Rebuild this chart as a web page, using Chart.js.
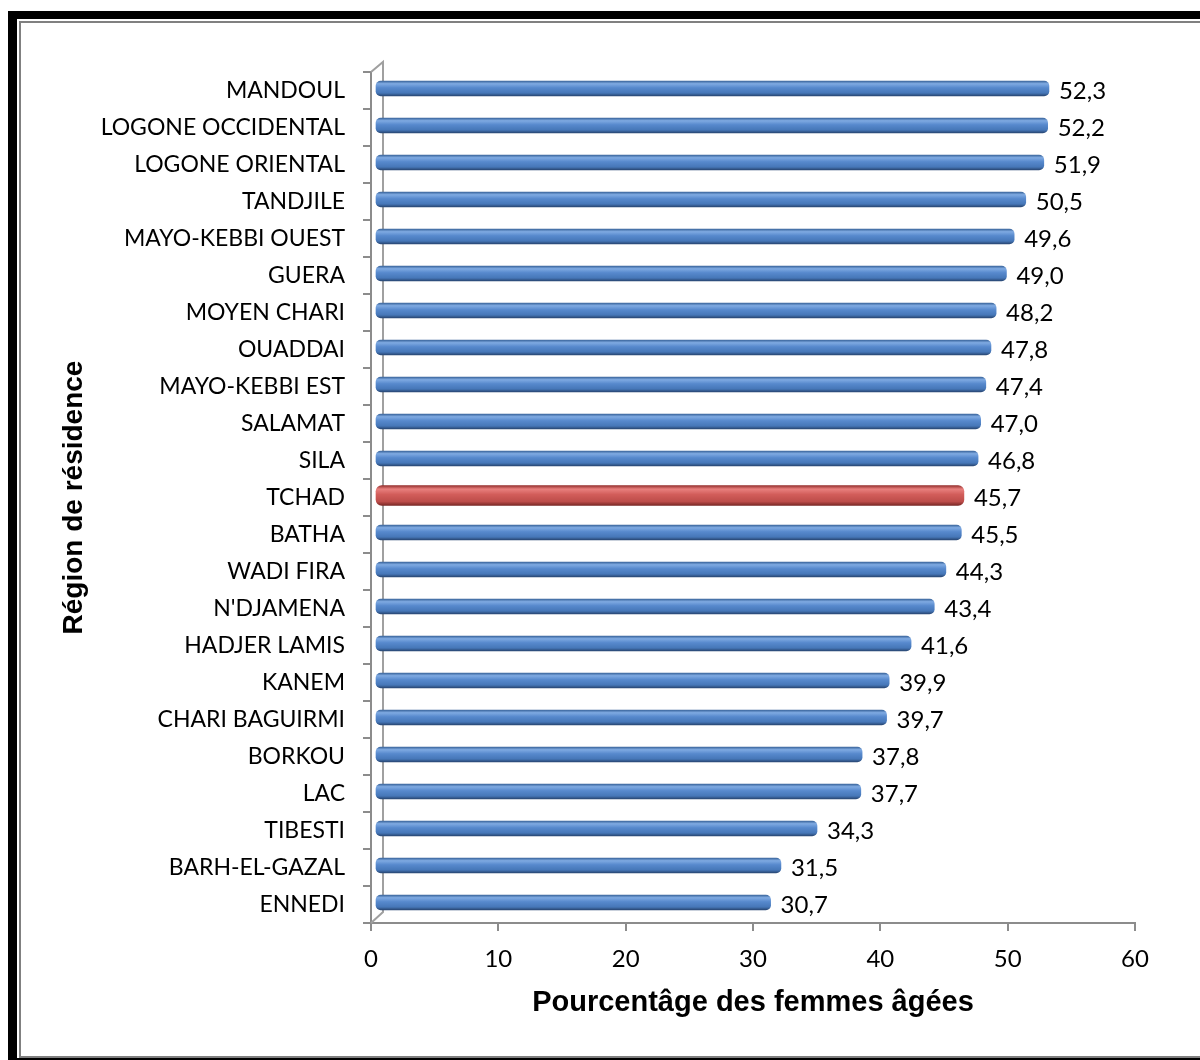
<!DOCTYPE html>
<html>
<head>
<meta charset="utf-8">
<script src="https://cdn.jsdelivr.net/npm/chart.js@4/dist/chart.umd.min.js"></script>
<style>
  html, body { margin: 0; padding: 0; background: #fff; overflow: hidden; }
  .cadre { position: absolute; left: 8px; top: 11px; width: 1300px; height: 1057px; box-sizing: border-box;
           border-left: 9px solid #000; border-top: 8px solid #000; border-bottom: 10px solid #000; }
  .cadre2 { position: absolute; left: 19px; top: 21px; width: 1300px; height: 1037px; box-sizing: border-box;
            border: 2px solid #808080; }
  #graphique { position: absolute; left: 0; top: 0; }
</style>
</head>
<body>
<div class="cadre"></div>
<div class="cadre2"></div>
<canvas id="graphique" width="1200" height="1060"></canvas>
<script>
// Données (de haut en bas)
const regions = ['MANDOUL', 'LOGONE OCCIDENTAL', 'LOGONE ORIENTAL', 'TANDJILE', 'MAYO-KEBBI OUEST',
    'GUERA', 'MOYEN CHARI', 'OUADDAI', 'MAYO-KEBBI EST', 'SALAMAT', 'SILA', 'TCHAD', 'BATHA',
    'WADI FIRA', "N'DJAMENA", 'HADJER LAMIS', 'KANEM', 'CHARI BAGUIRMI', 'BORKOU', 'LAC',
    'TIBESTI', 'BARH-EL-GAZAL', 'ENNEDI'];
const pourcentages = [52.3, 52.2, 51.9, 50.5, 49.6, 49.0, 48.2, 47.8, 47.4, 47.0, 46.8, 45.7, 45.5,
    44.3, 43.4, 41.6, 39.9, 39.7, 37.8, 37.7, 34.3, 31.5, 30.7];
const xTicks = [0, 10, 20, 30, 40, 50, 60];
const ensemble = 'TCHAD';

const policeTexte = 'Lato, "Open Sans", sans-serif';
const policeTitre = '"Liberation Sans", Arial, sans-serif';

// effet 3D : décalage des barres vers le fond
const decalY = -2;
function versFond(x) { return 375 + (x - 371) * 1.012; }

function degradeCylindre(ctx, y, h, couleurs) {
    const g = ctx.createLinearGradient(0, y - h / 2, 0, y + h / 2);
    g.addColorStop(0, couleurs[0]);
    g.addColorStop(0.18, couleurs[1]);
    g.addColorStop(0.45, couleurs[2]);
    g.addColorStop(0.8, couleurs[3]);
    g.addColorStop(1, couleurs[4]);
    return g;
}

function fond(couleurs, epaisseur) {
    return function(context) {
        const chart = context.chart;
        if (!chart.chartArea || context.dataIndex === undefined) return couleurs[2];
        const y = chart.scales.y.getPixelForValue(context.dataIndex);
        return degradeCylindre(chart.ctx, y, epaisseur, couleurs);
    };
}

const bleu = ['#3a659c', '#7faae2', '#5789cd', '#4677b8', '#284672'];
const rouge = ['#96302e', '#e8807e', '#d25d5a', '#bd4d4a', '#7a2826'];

const murPlugin = {
    id: 'mur',
    beforeDatasetsDraw(chart) {
        const { ctx, chartArea: a } = chart;
        ctx.save();
        ctx.strokeStyle = '#a0a0a0';
        ctx.lineWidth = 2;
        ctx.beginPath();
        ctx.moveTo(a.left, a.top);
        ctx.lineTo(a.left + 12, a.top - 10);
        ctx.lineTo(a.left + 12, a.bottom - 11);
        ctx.lineTo(a.left, a.bottom);
        ctx.stroke();
        ctx.restore();
    },
    beforeDatasetDraw(chart) {
        chart.ctx.save();
        chart.ctx.translate(375, decalY);
        chart.ctx.scale(1.012, 1);
        chart.ctx.translate(-371, 0);
    },
    afterDatasetDraw(chart) {
        chart.ctx.restore();
    },
    afterDatasetsDraw(chart) {
        const ctx = chart.ctx;
        ctx.save();
        ctx.font = '24px ' + policeTexte;
        ctx.fillStyle = '#000';
        ctx.textAlign = 'left';
        ctx.textBaseline = 'middle';
        chart.data.datasets.forEach((ds, i) => {
            chart.getDatasetMeta(i).data.forEach((el, j) => {
                const v = ds.data[j];
                if (v === null) return;
                ctx.fillText(v.toFixed(1).replace('.', ','), versFond(el.x) + 10, el.y + decalY + 3);
            });
        });
        ctx.restore();
    }
};

new Chart(document.getElementById('graphique'), {
    type: 'bar',
    data: {
        labels: regions,
        datasets: [{
            data: pourcentages.map((v, i) => regions[i] === ensemble ? null : v),
            backgroundColor: fond(bleu, 15),
            barThickness: 15,
            borderRadius: 5,
            borderSkipped: false,
            grouped: false
        }, {
            data: pourcentages.map((v, i) => regions[i] === ensemble ? v : null),
            backgroundColor: fond(rouge, 20),
            barThickness: 20,
            borderRadius: 6,
            borderSkipped: false,
            grouped: false
        }]
    },
    options: {
        indexAxis: 'y',
        responsive: false,
        animation: false,
        layout: { padding: { top: 72, right: 65, bottom: 37, left: 0 } },
        plugins: { legend: { display: false }, tooltip: { enabled: false } },
        scales: {
            x: {
                min: xTicks[0],
                max: xTicks[xTicks.length - 1],
                afterBuildTicks: function(scale) {
                    scale.ticks = xTicks.map(v => ({ value: v }));
                },
                afterFit: function(scale) { scale.height = 100; },
                grid: { drawOnChartArea: false, color: '#8c8c8c', lineWidth: 2, tickLength: 8 },
                border: { color: '#8c8c8c', width: 2 },
                ticks: { color: '#000', font: { family: policeTexte, size: 24 }, padding: 14 },
                title: {
                    display: true,
                    text: 'Pourcentâge des femmes âgées',
                    color: '#000',
                    font: { family: policeTitre, size: 29, weight: 'bold' },
                    padding: { top: 0, bottom: 3 }
                }
            },
            y: {
                afterFit: function(scale) { scale.width = 371; },
                grid: { drawOnChartArea: false, color: '#8c8c8c', lineWidth: 2, tickLength: 8, offset: true },
                border: { color: '#8c8c8c', width: 2 },
                ticks: { color: '#000', font: { family: policeTexte, size: 23 }, padding: 18, autoSkip: false },
                title: {
                    display: true,
                    text: 'Région de résidence',
                    color: '#000',
                    font: { family: policeTitre, size: 28, weight: 'bold' },
                    padding: { top: 57, bottom: 0 }
                }
            }
        }
    },
    plugins: [murPlugin]
});
</script>
</body>
</html>
